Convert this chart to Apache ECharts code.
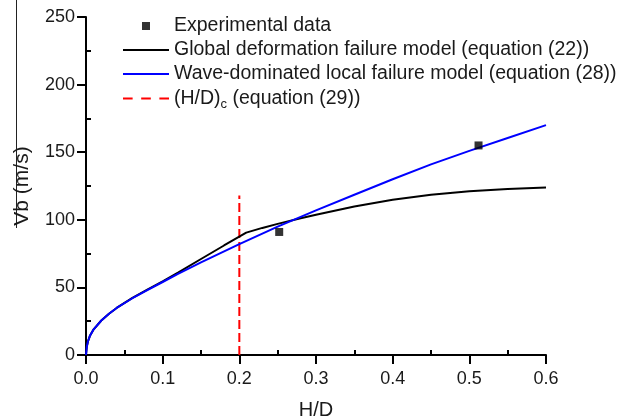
<!DOCTYPE html>
<html>
<head>
<meta charset="UTF-8">
<title>Vb vs H/D</title>
<script type="text/javascript" src="https://cdn.jsdelivr.net/npm/echarts@6/dist/echarts.min.js"></script>
</head>
<body style="margin:0;background:#fff;">
<div id="main" style="width:633px;height:419px;"></div>
<script type="text/javascript">
// experimental points
var expX = [0.252, 0.512];
var expV = [91, 155];

// global deformation failure model (eq. 22)
var globX = [0, 0.001, 0.0025, 0.005, 0.01, 0.02, 0.03, 0.04, 0.06, 0.08, 0.1, 0.12, 0.15, 0.18, 0.209, 0.23, 0.25, 0.28, 0.3, 0.35, 0.4, 0.45, 0.5, 0.55, 0.6];
var globV = [0, 6, 10, 14, 19, 25.5, 30.5, 34.8, 42, 48.3, 54.5, 61, 71, 81, 90.5, 94, 97, 101.2, 103.8, 109.8, 114.8, 118.6, 121.2, 122.8, 123.8];

// wave-dominated local failure model (eq. 28)
var waveX = [0, 0.001, 0.0025, 0.005, 0.01, 0.02, 0.03, 0.04, 0.06, 0.08, 0.1, 0.12, 0.15, 0.2, 0.25, 0.3, 0.35, 0.4, 0.45, 0.5, 0.55, 0.6];
var waveV = [0, 6, 10, 14, 19, 25.5, 30.5, 34.8, 41.8, 48, 54, 60, 68.5, 82, 95, 107, 118.5, 130, 141, 151, 160.5, 170];

// critical (H/D)c line
var critX = [0.2, 0.2];
var critV = [0, 118];

var names = ['Experimental data',
             'Global deformation failure model (equation (22))',
             'Wave-dominated local failure model (equation (28))',
             '(H/D)c (equation (29))'];

function pairs(xs, ys) {
    var out = [];
    for (var i = 0; i < xs.length; i++) out.push([xs[i], ys[i]]);
    return out;
}

var txt = '#1a1a1a';
var font = 'Liberation Sans, Arial, sans-serif';
var myChart = echarts.init(document.getElementById('main'));

// major ticks: drawn "inside" with a negative length so they point outwards
var majorTick = { show: true, inside: true, length: -9, lineStyle: { color: '#000', width: 2 } };
var minorTick = { show: true, splitNumber: 2, length: 5, lineStyle: { color: '#000', width: 2 } };

var option = {
    backgroundColor: '#fff',
    animation: false,
    grid: { left: 86, right: 87, top: 17, bottom: 64, outerBoundsMode: 'none', containLabel: false },
    legend: {
        orient: 'vertical',
        left: 123,
        top: 14,
        padding: 0,
        itemWidth: 46,
        itemHeight: 8,
        itemGap: 0,
        selectedMode: false,
        symbolKeepAspect: true,
        itemStyle: { borderWidth: 0 },
        data: [
            { name: names[0], icon: 'path://M0,0H8V8H0Z' },
            { name: names[1], icon: 'path://M0,0H46V2H0Z' },
            { name: names[2], icon: 'path://M0,0H46V2H0Z' },
            { name: names[3], icon: 'path://M0,0H9V2H0Z M17,0H26V2H17Z M34,0H43V2H34Z' }
        ],
        textStyle: {
            color: txt, fontSize: 19.5, lineHeight: 24, fontFamily: font,
            rich: {
                sub: { fontSize: 13, lineHeight: 13, padding: [12, 0, 0, 0], color: txt, fontFamily: font }
            }
        },
        formatter: function (n) {
            if (n === names[3]) return '(H/D){sub|c} (equation (29))';
            return n;
        }
    },
    xAxis: {
        type: 'value',
        min: 0, max: 0.6, interval: 0.1,
        name: 'H/D',
        nameLocation: 'middle',
        nameGap: 45,
        nameTextStyle: { color: txt, fontSize: 20, fontFamily: font },
        axisLine: { show: true, lineStyle: { color: '#000', width: 2 } },
        axisTick: majorTick,
        minorTick: minorTick,
        splitLine: { show: false },
        axisLabel: {
            color: txt, fontSize: 18, margin: 15, fontFamily: font,
            formatter: function (v) { return v.toFixed(1); }
        }
    },
    yAxis: {
        type: 'value',
        min: 0, max: 250, interval: 50,
        name: 'Vb (m/s)',
        nameLocation: 'middle',
        nameGap: 53,
        nameTextStyle: { color: txt, fontSize: 21, fontFamily: font },
        axisLine: { show: true, lineStyle: { color: '#000', width: 2 } },
        axisTick: majorTick,
        minorTick: minorTick,
        splitLine: { show: false },
        axisLabel: { color: txt, fontSize: 18, margin: 11, fontFamily: font }
    },
    series: [
        {
            name: names[0],
            type: 'scatter',
            symbol: 'rect',
            symbolSize: 8,
            itemStyle: { color: '#000' },
            data: pairs(expX, expV),
            z: 5
        },
        {
            name: names[1],
            type: 'line',
            symbol: 'none',
            lineStyle: { color: '#000', width: 2 },
            itemStyle: { color: '#000' },
            data: pairs(globX, globV),
            z: 3
        },
        {
            name: names[2],
            type: 'line',
            symbol: 'none',
            lineStyle: { color: '#0000ff', width: 2 },
            itemStyle: { color: '#0000ff' },
            data: pairs(waveX, waveV),
            z: 4
        },
        {
            name: names[3],
            type: 'line',
            symbol: 'none',
            lineStyle: { color: '#ff0000', width: 2, type: [9, 4] },
            itemStyle: { color: '#ff0000' },
            data: pairs(critX, critV),
            z: 2
        }
    ],
    graphic: [{
        type: 'line',
        shape: { x1: 16.5, y1: 0, x2: 16.5, y2: 228 },
        style: { stroke: '#222', lineWidth: 1 }
    }]
};

myChart.setOption(option);
</script>
</body>
</html>
